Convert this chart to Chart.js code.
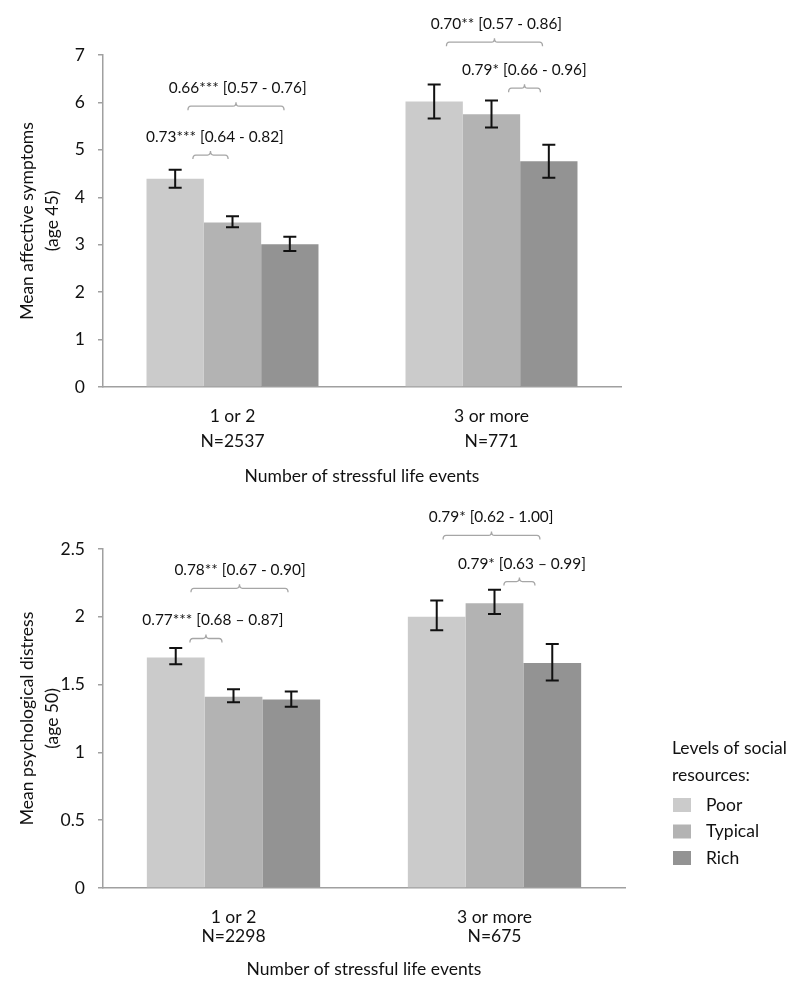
<!DOCTYPE html>
<html>
<head>
<meta charset="utf-8">
<script src="https://cdn.jsdelivr.net/npm/chart.js@4.4.0/dist/chart.umd.min.js"></script>
<style>
  body { margin: 0; background: #fff; }
  .box { position: relative; width: 800px; height: 497px; }
</style>
</head>
<body>
<div class="box"><canvas id="topChart"></canvas></div>
<div class="box"><canvas id="bottomChart"></canvas></div>
<script>
// Categories (x axis)
const topCategories = [['1 or 2', 'N=2537'], ['3 or more', 'N=771']];
const bottomCategories = [['1 or 2', 'N=2298'], ['3 or more', 'N=675']];

// Levels of social resources
const seriesNames = ['Poor', 'Typical', 'Rich'];
const seriesColors = ['#cbcbcb', '#b3b3b3', '#939393'];

// Top chart: mean affective symptoms (age 45)
const topPoor = [4.39, 6.02];
const topTypical = [3.47, 5.75];
const topRich = [3.01, 4.76];
const topPoorErr = [[4.20, 4.58], [5.66, 6.38]];
const topTypicalErr = [[3.37, 3.60], [5.47, 6.04]];
const topRichErr = [[2.87, 3.17], [4.41, 5.11]];
const topTicks = [0, 1, 2, 3, 4, 5, 6, 7];

// Bottom chart: mean psychological distress (age 50)
const bottomPoor = [1.70, 2.00];
const bottomTypical = [1.41, 2.10];
const bottomRich = [1.39, 1.66];
const bottomPoorErr = [[1.65, 1.77], [1.90, 2.12]];
const bottomTypicalErr = [[1.37, 1.465], [2.02, 2.20]];
const bottomRichErr = [[1.337, 1.45], [1.53, 1.80]];
const bottomTicks = [0, 0.5, 1, 1.5, 2, 2.5];

// Odds ratio brackets (x in category units, y in axis units)
const topBrackets = [
  { from: -0.153, to: -0.017, y: 4.89, labelX: -0.068, label: '0.73*** [0.64 - 0.82]' },
  { from: -0.172, to: 0.199, y: 5.92, labelX: 0.02, label: '0.66*** [0.57 - 0.76]' },
  { from: 0.826, to: 1.197, y: 7.27, labelX: 1.019, label: '0.70** [0.57 - 0.86]' },
  { from: 1.066, to: 1.189, y: 6.30, labelX: 1.127, label: '0.79* [0.66 - 0.96]' }
];
const bottomBrackets = [
  { from: -0.167, to: -0.044, y: 1.84, labelX: -0.079, label: '0.77*** [0.68 \u2013 0.87]' },
  { from: -0.163, to: 0.209, y: 2.21, labelX: 0.025, label: '0.78** [0.67 - 0.90]' },
  { from: 0.803, to: 1.174, y: 2.60, labelX: 0.987, label: '0.79* [0.62 - 1.00]' },
  { from: 1.036, to: 1.155, y: 2.26, labelX: 1.105, label: '0.79* [0.63 \u2013 0.99]' }
];

const FONT = 'Lato, "Open Sans", sans-serif';
const FONT_SIZE = 17.5;
const TEXT_COLOR = '#111';
const AXIS_COLOR = '#a0a0a0';

const errorBarsPlugin = {
  id: 'errorBars',
  afterDatasetsDraw(chart) {
    const ctx = chart.ctx;
    const yScale = chart.scales.y;
    ctx.save();
    ctx.strokeStyle = '#111';
    ctx.lineWidth = 2;
    chart.data.datasets.forEach((ds, i) => {
      const meta = chart.getDatasetMeta(i);
      meta.data.forEach((bar, j) => {
        const [lo, hi] = ds.errors[j];
        const yLo = yScale.getPixelForValue(lo);
        const yHi = yScale.getPixelForValue(hi);
        const cap = 6.5;
        ctx.beginPath();
        ctx.moveTo(bar.x, yLo);
        ctx.lineTo(bar.x, yHi);
        ctx.moveTo(bar.x - cap, yLo);
        ctx.lineTo(bar.x + cap, yLo);
        ctx.moveTo(bar.x - cap, yHi);
        ctx.lineTo(bar.x + cap, yHi);
        ctx.stroke();
      });
    });
    ctx.restore();
  }
};

const bracketsPlugin = {
  id: 'brackets',
  afterDraw(chart, args, opts) {
    const ctx = chart.ctx;
    const xScale = chart.scales.x;
    const yScale = chart.scales.y;
    ctx.save();
    (opts.items || []).forEach(b => {
      const x1 = xScale.getPixelForValue(b.from);
      const x2 = xScale.getPixelForValue(b.to);
      const y = yScale.getPixelForValue(b.y);
      const mid = (x1 + x2) / 2;
      ctx.strokeStyle = '#a6a6a6';
      ctx.lineWidth = 1.3;
      ctx.beginPath();
      ctx.moveTo(x1, y + 4);
      ctx.quadraticCurveTo(x1, y, x1 + 3, y);
      ctx.lineTo(mid - 3, y);
      ctx.quadraticCurveTo(mid, y, mid, y - 4);
      ctx.quadraticCurveTo(mid, y, mid + 3, y);
      ctx.lineTo(x2 - 3, y);
      ctx.quadraticCurveTo(x2, y, x2, y + 4);
      ctx.stroke();

      ctx.fillStyle = TEXT_COLOR;
      ctx.font = '15.4px ' + FONT;
      ctx.textAlign = 'center';
      ctx.textBaseline = 'middle';
      ctx.fillText(b.label, xScale.getPixelForValue(b.labelX), y - 18);
    });
    ctx.restore();
  }
};

const sideLegendPlugin = {
  id: 'sideLegend',
  afterDraw(chart, args, opts) {
    if (!opts.show) return;
    const ctx = chart.ctx;
    ctx.save();
    ctx.font = FONT_SIZE + 'px ' + FONT;
    ctx.fillStyle = TEXT_COLOR;
    ctx.textAlign = 'left';
    ctx.textBaseline = 'middle';
    ctx.fillText('Levels of social', 672, 251);
    ctx.fillText('resources:', 672, 278);
    chart.data.datasets.forEach((ds, i) => {
      const cy = 308 + i * 26.5;
      ctx.fillStyle = ds.backgroundColor;
      ctx.fillRect(673, cy - 7, 18, 14);
      ctx.fillStyle = TEXT_COLOR;
      ctx.fillText(ds.label, 706, cy);
    });
    ctx.restore();
  }
};

function makeDatasets(values, errors) {
  return seriesNames.map((name, i) => ({
    label: name,
    data: values[i],
    errors: errors[i],
    backgroundColor: seriesColors[i],
    borderWidth: 0,
    categoryPercentage: 0.664,
    barPercentage: 1
  }));
}

function makeChart(id, cfg) {
  return new Chart(document.getElementById(id), {
    type: 'bar',
    data: {
      labels: cfg.categories,
      datasets: makeDatasets(cfg.values, cfg.errors)
    },
    options: {
      responsive: true,
      maintainAspectRatio: false,
      animation: false,
      layout: { padding: { top: cfg.padTop, right: cfg.padRight, left: 0, bottom: 0 } },
      plugins: {
        legend: { display: false },
        tooltip: { enabled: false },
        brackets: { items: cfg.brackets },
        sideLegend: { show: cfg.legend }
      },
      scales: {
        x: {
          grid: { display: false, drawTicks: false },
          border: { display: true, color: AXIS_COLOR, width: 1.5 },
          ticks: {
            color: TEXT_COLOR,
            padding: cfg.xTickPad,
            maxRotation: 0,
            font: { family: FONT, size: FONT_SIZE, lineHeight: cfg.xTickLine }
          },
          title: {
            display: true,
            text: 'Number of stressful life events',
            color: TEXT_COLOR,
            font: { family: FONT, size: FONT_SIZE },
            padding: { top: 0, bottom: cfg.xTitlePad }
          },
          afterFit(scale) { scale.height = cfg.xHeight; }
        },
        y: {
          min: 0,
          max: cfg.ticks[cfg.ticks.length - 1],
          afterBuildTicks(scale) { scale.ticks = cfg.ticks.map(v => ({ value: v })); },
          grid: { display: true, drawOnChartArea: false, drawTicks: true, tickLength: 5, color: AXIS_COLOR, lineWidth: 1.5 },
          border: { display: true, color: AXIS_COLOR, width: 1.5 },
          ticks: {
            color: TEXT_COLOR,
            padding: 13,
            font: { family: FONT, size: FONT_SIZE },
            callback: v => String(v)
          },
          title: {
            display: true,
            text: cfg.yTitle,
            color: TEXT_COLOR,
            font: { family: FONT, size: FONT_SIZE, lineHeight: 25 / FONT_SIZE },
            padding: { top: 15, bottom: 0 }
          },
          afterFit(scale) { scale.width = 103; }
        }
      }
    },
    plugins: [errorBarsPlugin, bracketsPlugin, sideLegendPlugin]
  });
}

makeChart('topChart', {
  categories: topCategories,
  values: [topPoor, topTypical, topRich],
  errors: [topPoorErr, topTypicalErr, topRichErr],
  ticks: topTicks,
  brackets: topBrackets,
  yTitle: ['Mean affective symptoms', '(age 45)'],
  padTop: 55, padRight: 179,
  xHeight: 110, xTickPad: 17, xTickLine: 25 / FONT_SIZE, xTitlePad: 10,
  legend: false
});

makeChart('bottomChart', {
  categories: bottomCategories,
  values: [bottomPoor, bottomTypical, bottomRich],
  errors: [bottomPoorErr, bottomTypicalErr, bottomRichErr],
  ticks: bottomTicks,
  brackets: bottomBrackets,
  yTitle: ['Mean psychological distress', '(age 50)'],
  padTop: 52, padRight: 175,
  xHeight: 106, xTickPad: 20, xTickLine: 19 / FONT_SIZE, xTitlePad: 14,
  legend: true
});
</script>
</body>
</html>
